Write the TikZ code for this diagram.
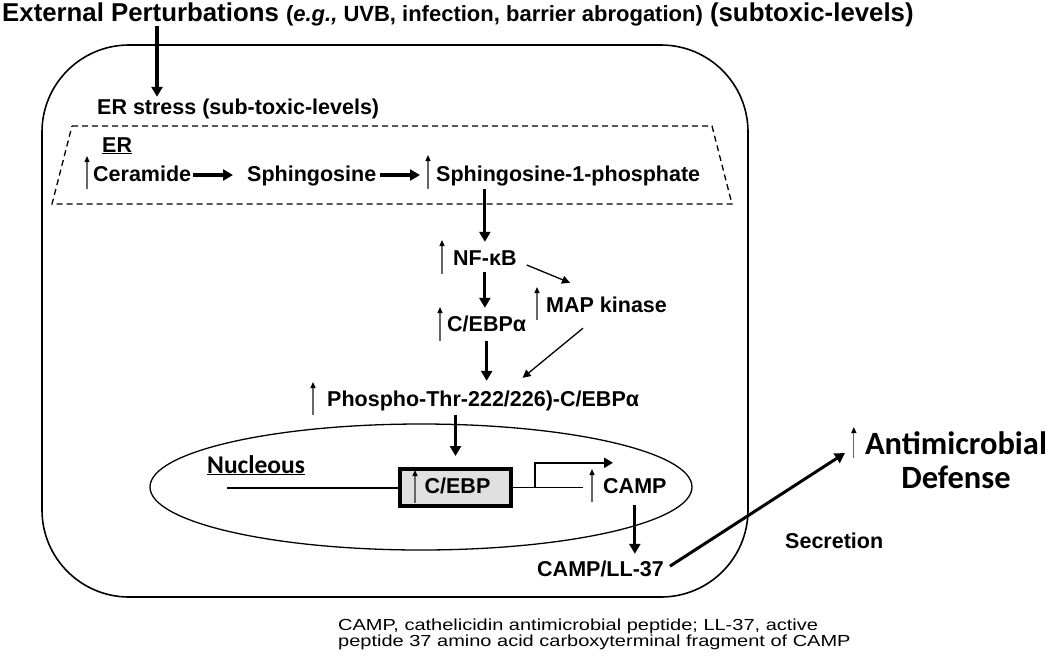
\documentclass[tikz,border=0pt]{standalone}
\usepackage{fontspec}
\setmainfont{Liberation Sans}
\newfontfamily\calibfont{Carlito}
\newfontfamily\notefont[FakeStretch=1.25]{Liberation Sans}
\usetikzlibrary{arrows.meta,calc}

\begin{document}
\begin{tikzpicture}[x=1pt, y=-1pt,
    item/.style={font=\fontsize{21.5}{24}\selectfont\bfseries, inner
      sep=0pt, anchor=base west, text height=16pt, text depth=4pt}]
  \useasboundingbox (0,0) rectangle (1050,657);

  % cell, ER and nucleus
  \draw[line width=1.6pt, rounded corners=87pt] (42,45) rectangle (748,597);
  \draw[line width=1.3pt, dash pattern=on 6pt off 4pt] (72,126) --
  (712,126) -- (732,204) -- (52,204) -- cycle;
  \draw[line width=1.3pt] (421,487) ellipse [x radius=271, y radius=63];

  \begin{scope}[every node/.style={item}]
    \node (title) at (2,21) {\fontsize{25.8}{28}\selectfont External
      Perturbations {\fontsize{22}{26}\selectfont (\textit{e.g.,} UVB,
        infection, barrier abrogation)} (subtoxic-levels)};
    \node (erstress) at (97,114) {ER stress (sub-toxic-levels)};
    \node (er) at (102,152) {\underline{ER}}; \node (ceramide) at
    (93,181) {Ceramide}; \node (sphingosine) at (247,181)
    {Sphingosine}; \node (s1p) at (436,181) {Sphingosine-1-phosphate};
    \node (nfkb) at (453,265) {NF-κB}; \node (mapk) at (546,312) {MAP
      kinase}; \node (cebpa) at (447,331) {C/EBPα}; \node (phospho) at
    (327,406) {Phospho-Thr-222/226)-C/EBPα}; \node (camp) at (603,493)
    {CAMP}; \node (camp37) at (537,576) {CAMP/LL-37}; \node
    (secretion) at (785,548) {Secretion};
    \node [font=\calibfont\fontsize{25.5}{28}\selectfont\bfseries]
    (nucleous) at (207,473) {\underline{Nucleous}};
  \end{scope}

  \node [draw, line width=4pt, fill=black!12, minimum width=111pt,
  minimum height=37pt, inner sep=0pt, text height=16pt, text
  depth=4pt, font=\fontsize{21.5}{24}\selectfont\bfseries] (box) at
  (455.5,487.5) {\hspace{4pt}C/EBP};
  \node [font=\calibfont\fontsize{32.5}{34}\selectfont\bfseries,
  align=center, inner sep=0pt] (defense) at (956,460)
  {Antimicrobial\\Defense};
  \node [font=\notefont\fontsize{16}{13}\selectfont, align=left,
  anchor=north west, inner sep=0pt] (note) at (338,619) {CAMP,
    cathelicidin antimicrobial peptide; LL-37, active\\peptide 37
    amino acid carboxyterminal fragment of CAMP};

  \coordinate (pert) at (157,26); \coordinate (gene) at (227,488);
  \coordinate (sec) at (845,453);

  % gene with promoter
  \draw[line width=1.3pt] (gene) -- (gene -| box.west);
  \draw[line width=1.3pt] (box.east) -- ($(camp.west |- box.east)+(-20,0)$);
  \draw[line width=2.5pt, -{Triangle[length=9pt,width=10pt]}]
  ($(box.east)+(22,0)$) |- ($(camp.north west)+(10,-14)$);

  \begin{scope}[line width=3.2pt, -{Triangle[length=10pt,width=11pt]}]
    \draw[shorten >=1pt] (pert) -- (pert |- erstress.north); \draw
    [shorten <=2pt, shorten >=14pt] (ceramide.east) --
    (sphingosine.west); \draw [shorten <=4pt, shorten >=16pt]
    (sphingosine.east) -- (s1p.west);
    \draw [shorten <=4pt, shorten >=7pt] (s1p.south -| nfkb) --
    (nfkb.north); \draw [shorten <=3pt, shorten >=7pt] (nfkb.south)
    -- (nfkb.south |- cebpa.north); \draw [shorten <=6pt, shorten
    >=9pt] (cebpa.south) -- (cebpa.south |- phospho.north);
    \draw [shorten <=5pt, shorten >=11pt] (phospho.south -| box) --
    (box.north); \draw [shorten <=8pt, shorten >=6pt] (camp.south) --
    (camp.south |- camp37.north);
    \draw [line width=3pt, shorten <=7pt] (camp37.east) -- (sec);
  \end{scope}

  \begin{scope}[line width=1.3pt, -{Triangle[length=8pt,width=8pt]}]
    \draw ($(nfkb.east)+(10,6)$) -- ($(mapk.north west)+(24,-13)$);
    \draw ($(mapk.south west)+(37,12)$) -- ($(phospho.north)+(39.5,-12)$);
  \end{scope}

  \begin{scope}[line width=1.2pt, draw=black!60,
    -{Triangle[length=6pt,width=5pt,color=black]}]
    \draw ([shift={(-6,8)}]ceramide.base west) -- ++(0,-33); \draw
    ([shift={(-8,8)}]s1p.base west) -- ++(0,-34); \draw
    ([shift={(-11,9)}]nfkb.base west) -- ++(0,-34); \draw
    ([shift={(-9,8)}]mapk.base west) -- ++(0,-33); \draw
    ([shift={(-7,10)}]cebpa.base west) -- ++(0,-34); \draw
    ([shift={(-14,9)}]phospho.base west) -- ++(0,-33); \draw
    ([shift={(-11,9)}]camp.base west) -- ++(0,-33); \draw
    ([shift={(17,15.5)}]box.west) -- ++(0,-33); \draw
    ([shift={(-11,-2)}]defense.west) -- ++(0,-31);
  \end{scope}
\end{tikzpicture}
\end{document}
